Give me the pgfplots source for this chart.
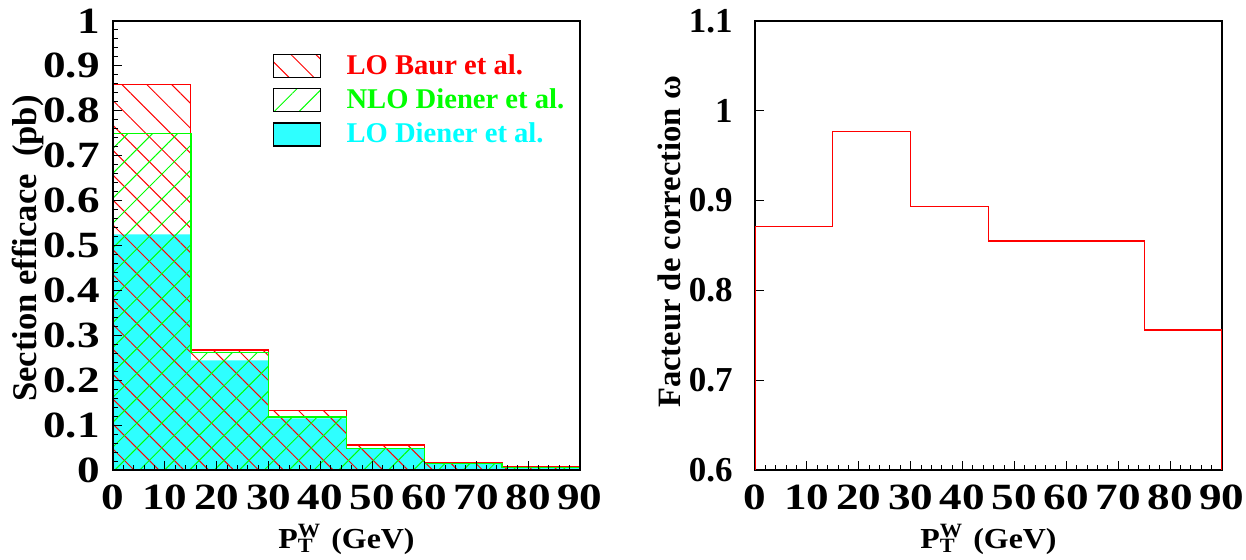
\documentclass[border=0pt]{standalone}
\usepackage{fontspec}
\setmainfont{Liberation Serif}
\newfontfamily\stfont{Liberation Serif}[FakeStretch=1.22]
\newfontfamily\stfontb{Liberation Serif}[FakeStretch=1.1]
\usepackage{pgfplots}
\pgfplotsset{compat=1.18}
\usetikzlibrary{patterns.meta}

\definecolor{rred}{RGB}{255,0,0}
\definecolor{rgreen}{RGB}{0,255,0}
\definecolor{rcyan}{RGB}{0,255,255}
\colorlet{cyanfill}{rcyan!82!white}

\newcommand\tickf{\stfont\bfseries\fontsize{18.5}{18.5}\selectfont}
\newcommand\tickRyf{\rmfamily\bfseries\fontsize{17.5}{17.5}\selectfont}
\newcommand\xlabf{\stfontb\bfseries\fontsize{14.5}{15}\selectfont}
\newcommand\ylabLf{\rmfamily\bfseries\fontsize{17.3}{18}\selectfont}
\newcommand\ylabRf{\rmfamily\bfseries\fontsize{16.3}{17}\selectfont}
\newcommand\legf{\rmfamily\bfseries\fontsize{14.3}{15}\selectfont}

\pgfplotstableread{
x    baur   nlo    lo
0    0.859  0.749  0.525
15   0.267  0.262  0.244
30   0.132  0.118  0.115
45   0.056  0.048  0.047
60   0.017  0.0145 0.013
75   0.007  0.0055 0.005
90   0.007  0.0055 0.005
}\sigtab

\pgfplotsset{rootax/.style={
  scale only axis, width=233.5pt, height=224.5pt,
  xmin=0, xmax=90, xtick={0,10,20,30,40,50,60,70,80,90}, minor x tick num=4,
  tick pos=left, tick align=inside,
  major tick length=4.5pt, minor tick length=2.5pt,
  tick style={line width=0.5pt, black},
  axis line style={line width=1.1pt},
  /pgf/number format/assume math mode=true,
  ticklabel style={font=\tickf},
  xticklabel style={anchor=base, inner sep=0pt, yshift=-20pt},
  xlabel={P\rlap{\textsubscript{T}}\textsuperscript{W}\hspace{0.35em}(GeV)},
  xlabel style={font=\xlabf, at={(axis description cs:0.5,-0.174)}, anchor=base},
}}

\begin{document}
\begin{tikzpicture}
\useasboundingbox (-56.5pt,-45pt) rectangle (566.5pt,235pt);

\begin{axis}[rootax, at={(0pt,0pt)}, anchor=south west,
  axis on top=true,
  ymin=0, ymax=1, ytick={0,0.1,0.2,0.3,0.4,0.5,0.6,0.7,0.8,0.9,1}, minor y tick num=4,
  yticklabel style={anchor=east, inner sep=0pt, xshift=-6.5pt},
  ylabel={Section efficace\ \ (pb)},
  ylabel style={font=\ylabLf, at={(axis description cs:-0.183,0.493)}, anchor=center},
  legend style={at={(0.3426,0.9265)}, anchor=north west, draw=none, fill=none,
    inner sep=0pt, outer sep=0pt, row sep=5pt, column sep=0pt,
    font=\legf, nodes={inner sep=0pt}},
  legend cell align=left,
]
\addplot[const plot, draw=none, fill=cyanfill, forget plot]
  table[x=x, y=lo] {\sigtab} \closedcycle;
\addplot[const plot, draw=rred, line width=0.65pt,
  pattern={Lines[angle=-45, distance=8.8pt, line width=0.5pt]}, pattern color=rred, forget plot]
  table[x=x, y=baur] {\sigtab} \closedcycle;
\addplot[const plot, draw=rgreen, line width=0.8pt,
  pattern={Lines[angle=45, distance=8.8pt, line width=0.5pt]}, pattern color=rgreen, forget plot]
  table[x=x, y=nlo] {\sigtab} \closedcycle;

\addlegendimage{legend image code/.code={
    \path[draw=none, pattern={Lines[angle=-45, distance=8.8pt, line width=0.5pt]}, pattern color=rred] (0pt,-5.75pt) rectangle (23.5pt,5.75pt);
    \draw[black, fill=none, line width=0.6pt] (0pt,-5.75pt) rectangle (23.5pt,5.75pt);
    \path[draw=none, fill=none] (0pt,0pt) -- (36.5pt,0pt);}}
\addlegendentry{\textcolor{rred}{LO Baur et al.}}
\addlegendimage{legend image code/.code={
    \path[draw=none, pattern={Lines[angle=45, distance=8.8pt, line width=0.5pt]}, pattern color=rgreen] (0pt,-5.75pt) rectangle (23.5pt,5.75pt);
    \draw[black, fill=none, line width=0.6pt] (0pt,-5.75pt) rectangle (23.5pt,5.75pt);
    \path[draw=none, fill=none] (0pt,0pt) -- (36.5pt,0pt);}}
\addlegendentry{\textcolor{rgreen}{NLO Diener et al.}}
\addlegendimage{legend image code/.code={
    \path[draw=none, fill=cyanfill] (0pt,-5.75pt) rectangle (23.5pt,5.75pt);
    \draw[black, fill=none, line width=0.6pt] (0pt,-5.75pt) rectangle (23.5pt,5.75pt);
    \path[draw=none, fill=none] (0pt,0pt) -- (36.5pt,0pt);}}
\addlegendentry{\textcolor{rcyan}{LO Diener et al.}}
\end{axis}

\begin{axis}[rootax, at={(321pt,0pt)}, anchor=south west,
  ymin=0.6, ymax=1.1, ytick={0.6,0.7,0.8,0.9,1,1.1}, minor y tick num=0,
  yticklabel style={font=\tickRyf, anchor=east, inner sep=0pt, xshift=-11pt},
  ylabel={Facteur de correction ω},
  ylabel style={font=\ylabRf, at={(axis description cs:-0.184,0.508)}, anchor=center},
]
\addplot[const plot, draw=rred, line width=0.6pt] coordinates {
  (0,0.6) (0,0.871) (15,0.977) (30,0.893) (45,0.855) (60,0.855) (75,0.756) (90,0.756) (90,0.6)
};
\end{axis}
\end{tikzpicture}
\end{document}
